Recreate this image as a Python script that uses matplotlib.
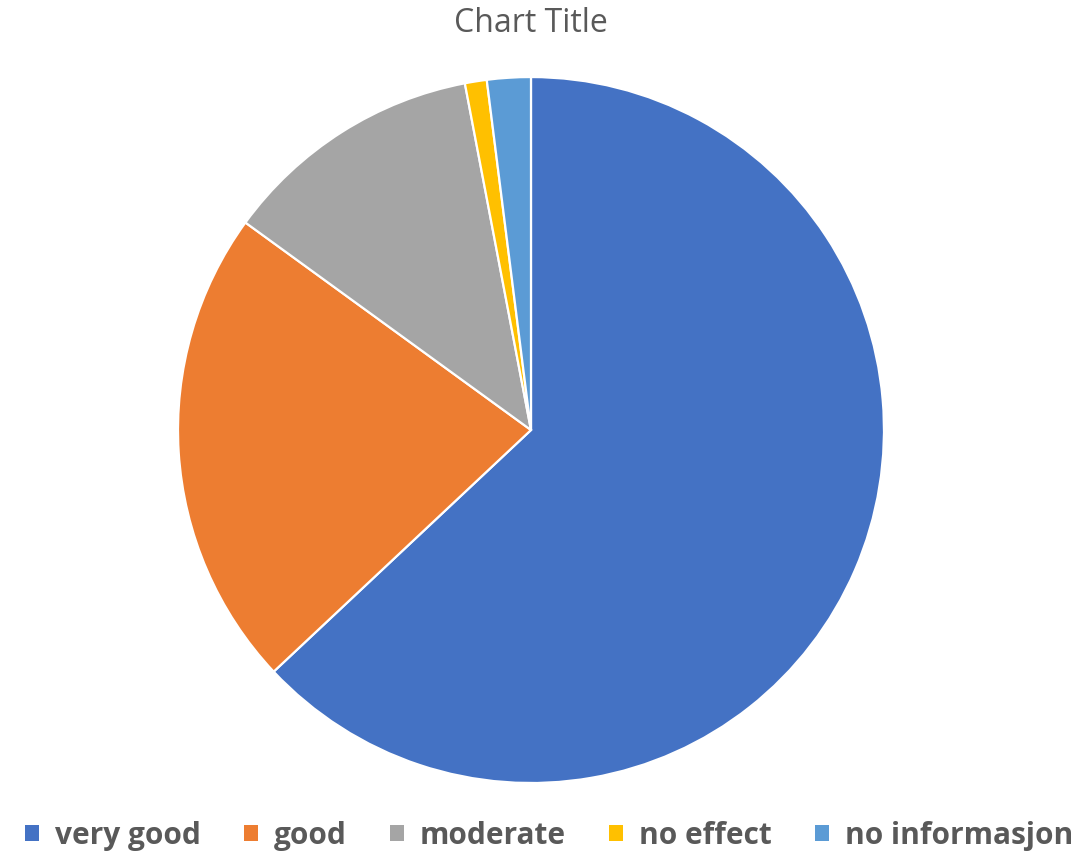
import matplotlib.pyplot as plt
from matplotlib.patches import Patch

labels = ['very good', 'good', 'moderate', 'no effect', 'no informasjon']
values = [63, 22, 12, 1, 2]
colors = ['#4472C4', '#ED7D31', '#A5A5A5', '#FFC000', '#5B9BD5']

plt.rcParams['font.family'] = ['Open Sans', 'DejaVu Sans']

fig = plt.figure(figsize=(10.92, 8.58), dpi=100)
ax = fig.add_axes([0.163, 0.0874, 0.6465, 0.8228])

# clockwise from 12 o'clock, thin white separators
ax.pie(values, colors=colors, startangle=90, counterclock=False,
       wedgeprops=dict(edgecolor='white', linewidth=1.6))
ax.set_aspect('auto')
ax.set_xlim(-1, 1)
ax.set_ylim(-1, 1)

fig.text(0.4863, 0.973, 'Chart Title', ha='center', va='center',
         fontsize=23, color='#595959')

handles = [Patch(facecolor=c, edgecolor='none') for c in colors]
leg = fig.legend(handles, labels, loc='center', bbox_to_anchor=(0.503, 0.026),
                 ncol=5, frameon=False, handlelength=0.45, handleheight=0.45,
                 handletextpad=0.55, columnspacing=1.45,
                 prop=dict(size=21.5, weight='bold'))
for t in leg.get_texts():
    t.set_color('#595959')

fig.savefig('out.png', dpi=100, facecolor='white')
